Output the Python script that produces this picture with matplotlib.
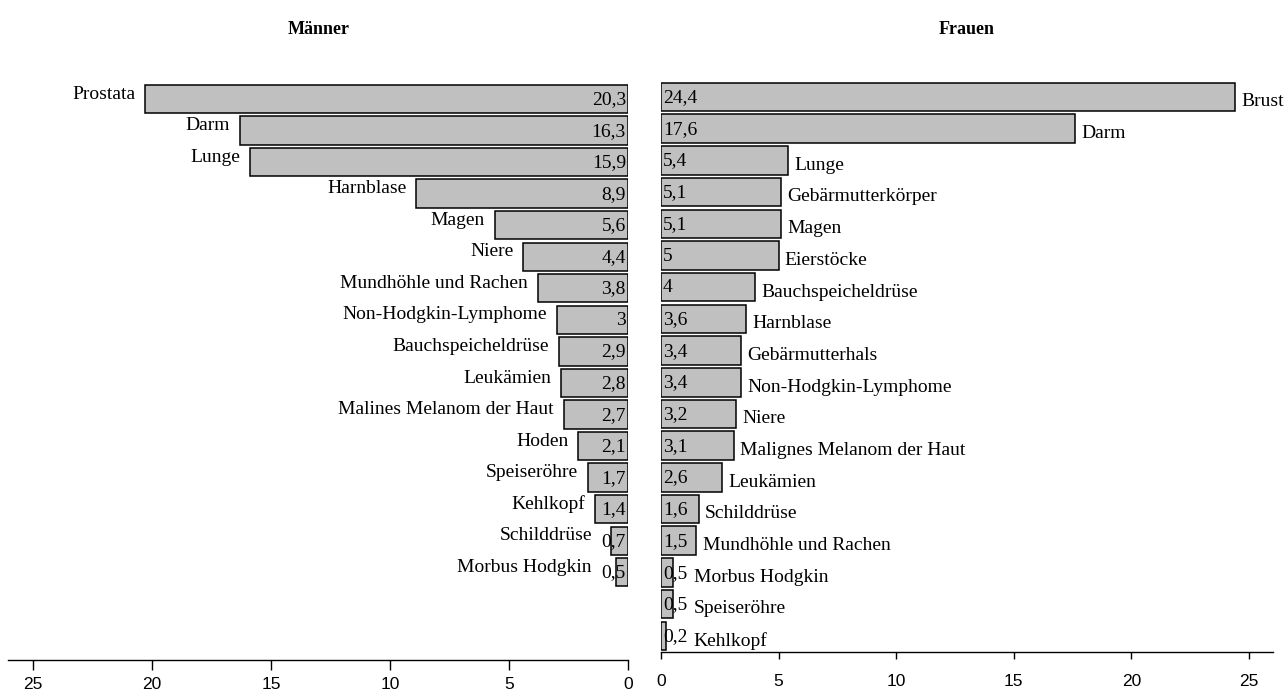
import matplotlib
matplotlib.use("Agg")
import matplotlib.pyplot as plt
from matplotlib import font_manager

# Anteil an allen Krebsneuerkrankungen (%)
men_labels = ["Prostata", "Darm", "Lunge", "Harnblase", "Magen", "Niere",
              "Mundhöhle und Rachen", "Non-Hodgkin-Lymphome", "Bauchspeicheldrüse",
              "Leukämien", "Malines Melanom der Haut", "Hoden", "Speiseröhre",
              "Kehlkopf", "Schilddrüse", "Morbus Hodgkin"]
men_values = [20.3, 16.3, 15.9, 8.9, 5.6, 4.4, 3.8, 3.0, 2.9, 2.8, 2.7, 2.1,
              1.7, 1.4, 0.7, 0.5]

women_labels = ["Brust", "Darm", "Lunge", "Gebärmutterkörper", "Magen", "Eierstöcke",
                "Bauchspeicheldrüse", "Harnblase", "Gebärmutterhals",
                "Non-Hodgkin-Lymphome", "Niere", "Malignes Melanom der Haut",
                "Leukämien", "Schilddrüse", "Mundhöhle und Rachen", "Morbus Hodgkin",
                "Speiseröhre", "Kehlkopf"]
women_values = [24.4, 17.6, 5.4, 5.1, 5.1, 5.0, 4.0, 3.6, 3.4, 3.4, 3.2, 3.1,
                2.6, 1.6, 1.5, 0.5, 0.5, 0.2]

x_ticks = [0, 5, 10, 15, 20, 25]

installed = {f.name for f in font_manager.fontManager.ttflist}
SERIF = "Liberation Serif" if "Liberation Serif" in installed else "DejaVu Serif"
TICKFONT = "Liberation Sans Narrow" if "Liberation Sans Narrow" in installed else "Liberation Sans"

BAR_COLOR = "#c0c0c0"
LABEL_SIZE = 14


def fmt(v):
    return f"{v:g}".replace(".", ",")


W, H = 1285, 693
fig = plt.figure(figsize=(W / 100, H / 100), dpi=100)


def px_axes(x0, x1, y_top, y_bottom):
    return fig.add_axes([x0 / W, 1 - y_bottom / H, (x1 - x0) / W, (y_bottom - y_top) / H])


ax_m = px_axes(8, 628, 80, 660)
ax_w = px_axes(661, 1273, 80, 652)

for ax, pad, length in ((ax_m, 5, 7), (ax_w, 10.5, 5)):
    for s in ("left", "right", "top"):
        ax.spines[s].set_visible(False)
    ax.spines["bottom"].set_linewidth(1.0)
    ax.set_yticks([])
    ax.set_xticks(x_ticks)
    ax.tick_params(axis="x", direction="out", length=length, width=1.0, pad=pad)
    for t in ax.get_xticklabels():
        t.set_fontfamily(TICKFONT)
        t.set_fontsize(12.5)
    ax.patch.set_alpha(0)

# Männer: Balken nach links
pos_m = list(range(len(men_values)))
ax_m.set_xlim(26.05, 0)
ax_m.set_ylim(17.78, -0.6)
ax_m.barh(pos_m, men_values, height=0.9, color=BAR_COLOR, edgecolor="black", linewidth=1.1)

# Frauen: Balken nach rechts
pos_w = list(range(len(women_values)))
ax_w.set_xlim(0, 26.02)
ax_w.set_ylim(17.51, -0.536)
ax_w.barh(pos_w, women_values, height=0.9, color=BAR_COLOR, edgecolor="black", linewidth=1.1)

# Werte an der Nulllinie
men_vtext = []
for p, v in zip(pos_m, men_values):
    men_vtext.append(ax_m.annotate(fmt(v), (0, p), xytext=(-1.5, -0.5), textcoords="offset points",
                                   ha="right", va="center", family=SERIF, fontsize=LABEL_SIZE))
women_vtext = []
for p, v in zip(pos_w, women_values):
    women_vtext.append(ax_w.annotate(fmt(v), (0, p), xytext=(1.5, -0.5), textcoords="offset points",
                                     ha="left", va="center", family=SERIF, fontsize=LABEL_SIZE))

fig.canvas.draw()
renderer = fig.canvas.get_renderer()

# Bezeichnungen hinter Balken bzw. Wert, je nachdem was weiter reicht
for p, v, lab, vt in zip(pos_m, men_values, men_labels, men_vtext):
    bb = vt.get_window_extent(renderer).transformed(ax_m.transData.inverted())
    x_end = max(v, bb.x0, bb.x1)
    ax_m.annotate(lab, (x_end, p), xytext=(-7, 3.5), textcoords="offset points",
                  ha="right", va="center", family=SERIF, fontsize=LABEL_SIZE)

for p, v, lab, vt in zip(pos_w, women_values, women_labels, women_vtext):
    bb = vt.get_window_extent(renderer).transformed(ax_w.transData.inverted())
    x_end = max(v, bb.x1) if v < 1.0 else v
    ax_w.annotate(lab, (x_end, p), xytext=(4.5, -3.5), textcoords="offset points",
                  ha="left", va="center", family=SERIF, fontsize=LABEL_SIZE, clip_on=False)

fig.text(319 / W, 1 - 30 / H, "Männer", ha="center", va="center",
         family=SERIF, fontweight="bold", fontsize=13)
fig.text(967 / W, 1 - 30 / H, "Frauen", ha="center", va="center",
         family=SERIF, fontweight="bold", fontsize=13)

fig.savefig("out.png", dpi=100)
